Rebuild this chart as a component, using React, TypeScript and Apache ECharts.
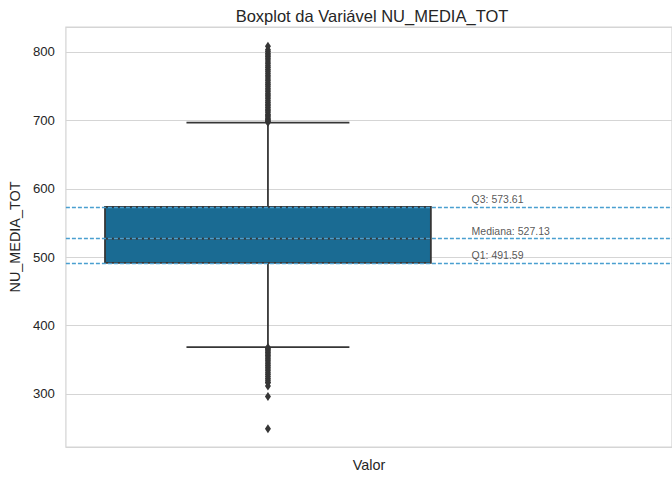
import React, { useEffect, useRef } from "react";
import * as echarts from "echarts";

const titleText = "Boxplot da Variável NU_MEDIA_TOT";
const xName = "Valor";
const yName = "NU_MEDIA_TOT";
// [lower whisker, Q1, median, Q3, upper whisker]
const boxStats = [368.56, 491.59, 527.13, 573.61, 696.64];
const statLabels = ["Q3", "Mediana", "Q1"];
const statValues = [573.61, 527.13, 491.59];
const upperOutliers = [
  697.2, 698.0, 699.5, 701.3, 703.0, 705.2, 707.4, 709.1, 711.8, 714.0, 716.3, 718.9, 721.4, 723.7,
  726.2, 728.8, 731.5, 734.0, 736.6, 739.1, 741.9, 744.3, 747.0, 749.8, 752.4, 755.1, 757.9, 760.6,
  763.4, 766.0, 768.9, 771.7, 774.3, 777.2, 780.0, 782.8, 785.5, 788.1, 790.7, 793.2, 795.6, 797.9,
  800.6, 803.1, 808.4,
];
const lowerOutliers = [
  368.0, 366.5, 364.8, 362.9, 360.7, 358.4, 356.2, 353.9, 351.5, 349.2, 346.8, 344.1, 341.7, 339.0,
  336.4, 333.9, 331.0, 328.4, 325.5, 322.7, 320.1, 317.3, 316.5, 311.8, 296.5, 249.3,
];

const FONT = "'Liberation Sans', Arial, sans-serif";
const INK = "#262626";
const LINE = "#363636";
const GRID = "#d5d5d5";

export default function App() {
  const ref = useRef<HTMLDivElement>(null);
  useEffect(() => {
    if (!ref.current) return;
    const chart = echarts.init(ref.current, null, { renderer: "svg" });
    const outliers = [...upperOutliers, ...lowerOutliers].map((v) => [0, v]);
    chart.setOption({
      animation: false,
      backgroundColor: "#ffffff",
      textStyle: { fontFamily: FONT },
      title: {
        text: titleText,
        left: 367,
        textAlign: "center",
        top: 2,
        textStyle: { fontFamily: FONT, fontSize: 16.5, fontWeight: "normal", color: INK },
      },
      grid: {
        left: 62,
        right: -2,
        top: 27,
        bottom: 31,
        show: true,
        borderColor: GRID,
        borderWidth: 1.25,
        backgroundColor: "transparent",
      },
      xAxis: {
        type: "value",
        min: -0.496,
        max: 0.992,
        name: xName,
        nameLocation: "middle",
        nameGap: 11,
        nameTextStyle: { fontFamily: FONT, fontSize: 14.4, color: INK },
        axisLine: { show: false },
        axisTick: { show: false },
        axisLabel: { show: false },
        splitLine: { show: false },
      },
      yAxis: {
        type: "value",
        min: 222.5,
        max: 836.5,
        splitNumber: 6,
        name: yName,
        nameLocation: "middle",
        nameGap: 40,
        nameTextStyle: { fontFamily: FONT, fontSize: 14.4, color: INK },
        axisLine: { show: false, onZero: false },
        axisTick: { show: false },
        axisLabel: {
          showMinLabel: false,
          showMaxLabel: false,
          margin: 11,
          fontFamily: FONT,
          fontSize: 13.2,
          color: INK,
          formatter: (v: number) => (Math.abs(v % 100) < 1e-6 ? String(v) : ""),
        },
        splitLine: { show: true, lineStyle: { color: GRID, width: 1 } },
      },
      series: [
        {
          type: "custom",
          z: 3,
          data: [[0, ...boxStats]],
          encode: { x: 0, y: [1, 2, 3, 4, 5] },
          renderItem: (params: any, api: any) => {
            const x = api.value(0);
            const lo = api.coord([x, api.value(1)]);
            const q1 = api.coord([x, api.value(2)]);
            const med = api.coord([x, api.value(3)]);
            const q3 = api.coord([x, api.value(4)]);
            const hi = api.coord([x, api.value(5)]);
            const half = api.size([0.4, 0])[0];
            const cap = half / 2;
            const cx = q1[0];
            const ls = { stroke: LINE, lineWidth: 1.8 };
            return {
              type: "group",
              children: [
                { type: "line", shape: { x1: cx, y1: q3[1], x2: cx, y2: hi[1] }, style: ls },
                { type: "line", shape: { x1: cx, y1: q1[1], x2: cx, y2: lo[1] }, style: ls },
                { type: "line", shape: { x1: cx - cap, y1: hi[1], x2: cx + cap, y2: hi[1] }, style: ls },
                { type: "line", shape: { x1: cx - cap, y1: lo[1], x2: cx + cap, y2: lo[1] }, style: ls },
                {
                  type: "rect",
                  shape: { x: cx - half, y: q3[1], width: half * 2, height: q1[1] - q3[1] },
                  style: { fill: "#1a6b93", stroke: LINE, lineWidth: 1.8 },
                },
                { type: "line", shape: { x1: cx - half, y1: med[1], x2: cx + half, y2: med[1] }, style: ls },
              ],
            };
          },
          markLine: {
            silent: true,
            symbol: "none",
            label: { show: false },
            lineStyle: { color: "#4a9fd0", type: [4, 2], width: 1.3 },
            data: statValues.map((v) => ({ yAxis: v })),
          },
        },
        {
          type: "scatter",
          z: 4,
          symbol: "diamond",
          symbolSize: [6, 9],
          itemStyle: { color: LINE, opacity: 1 },
          data: outliers,
        },
        {
          type: "scatter",
          z: 5,
          symbolSize: 0,
          data: statValues.map((v, i) => ({ value: [0.5, v], name: statLabels[i] })),
          label: {
            show: true,
            position: [0, -2],
            align: "left",
            verticalAlign: "bottom",
            fontFamily: FONT,
            fontSize: 10.5,
            color: "#2b2b2b",
            formatter: (p: any) => `${p.name}: ${p.value[1].toFixed(2)}`,
          },
        },
      ],
    });
    return () => chart.dispose();
  }, []);
  return (
    <div
      ref={ref}
      style={{ position: "fixed", left: 0, top: 0, width: 672, height: 478, background: "#fff" }}
    />
  );
}
